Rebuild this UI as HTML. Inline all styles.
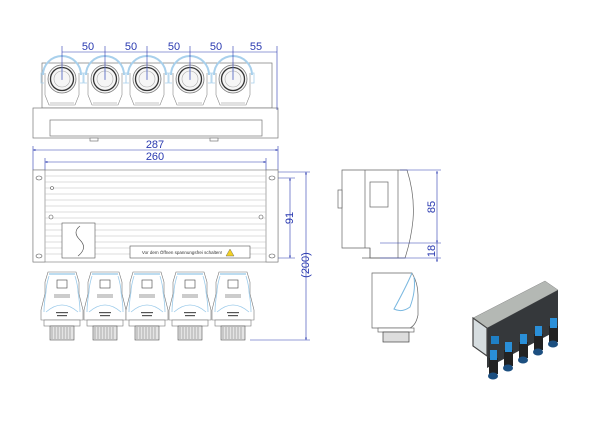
<!DOCTYPE html>
<html><head><style>
body{margin:0;background:#fff}
svg{display:block;font-family:"Liberation Sans",sans-serif}
</style></head><body>
<svg width="600" height="425" viewBox="0 0 600 425" xmlns="http://www.w3.org/2000/svg">
<defs>
<marker id="a" viewBox="0 0 10 10" refX="10" refY="5" markerWidth="6" markerHeight="4" orient="auto-start-reverse"><path d="M0,1 L10,5 L0,9z" fill="#2a3ab0"/></marker>
<g id="knob">
<path d="M-19,-4 A19,19 0 0 1 19,-4" fill="none" stroke="#a8d0ec" stroke-width="2"/>
<path d="M-18,-6 h-3 v10 h3 M18,-6 h3 v10 h-3" fill="none" stroke="#a8d0ec" stroke-width="0.8"/>
<path d="M-17,-6 v22 l4,10 h26 l4,-10 v-22" fill="#fff" stroke="#888" stroke-width="0.6"/>
<circle r="14" fill="#f6f6f6" stroke="#777" stroke-width="0.8"/>
<circle r="11.5" fill="none" stroke="#333" stroke-width="1.3"/>
<circle r="8" fill="none" stroke="#aaa" stroke-width="0.6"/>
<line x1="0" y1="-12" x2="0" y2="0" stroke="#a8d0ec" stroke-width="0.6"/>
<line x1="-12" y1="24" x2="12" y2="24" stroke="#888" stroke-width="0.6"/>
</g>
<g id="plug">
<path d="M-14,0 h28 l3,10 v12 l4,16 v10 h-42 v-10 l4,-16 v-12z" fill="#fff" stroke="#777" stroke-width="0.6"/>
<path d="M-13,2 h26" fill="none" stroke="#7ab8e0" stroke-width="1"/>
<path d="M-16,40 q16,-14 32,0 M-16,20 q-2,12 -2,20 M16,20 q2,12 2,20 M-13,4 q-3,10 -3,16 M13,4 q3,10 3,16" fill="none" stroke="#9ccbea" stroke-width="0.8"/>
<rect x="-5" y="8" width="10" height="8" fill="none" stroke="#444" stroke-width="0.6"/>
<rect x="-8" y="22" width="16" height="4" fill="#ccc"/>
<rect x="-6" y="40" width="12" height="1.2" fill="#555"/>
<rect x="-5" y="43" width="10" height="1.2" fill="#555"/>
<rect x="-18" y="48" width="36" height="6" fill="#fff" stroke="#777" stroke-width="0.6"/>
<rect x="-12" y="54" width="24" height="14" fill="#e4e4e4" stroke="#555" stroke-width="0.6"/>
<path d="M-10,55v12M-7,55v12M-4,55v12M-1,55v12M2,55v12M5,55v12M8,55v12" stroke="#777" stroke-width="0.5"/>
</g>
</defs>

<!-- TOP VIEW -->
<g stroke="#777" stroke-width="0.7" fill="#fff">
<rect x="42" y="63" width="230" height="45"/>
<rect x="33" y="108" width="245" height="30"/>
<rect x="50" y="120" width="212" height="16"/>
<rect x="90" y="138" width="8" height="3"/><rect x="210" y="138" width="8" height="3"/>
</g>
<use href="#knob" x="62" y="79"/><use href="#knob" x="105" y="79"/><use href="#knob" x="147" y="79"/><use href="#knob" x="190" y="79"/><use href="#knob" x="233" y="79"/>
<g stroke="#2a3ab0" stroke-width="0.6" fill="none">
<line x1="62" y1="52" x2="277" y2="52"/>
<line x1="62" y1="46" x2="62" y2="80"/><line x1="105" y1="46" x2="105" y2="80"/><line x1="147" y1="46" x2="147" y2="80"/><line x1="190" y1="46" x2="190" y2="80"/><line x1="233" y1="46" x2="233" y2="80"/><line x1="277" y1="46" x2="277" y2="110"/>
</g>
<g fill="#2a3ab0" font-size="11" text-anchor="middle">
<text x="88" y="50">50</text><text x="131" y="50">50</text><text x="174" y="50">50</text><text x="216" y="50">50</text><text x="256" y="50">55</text>
</g>

<!-- FRONT VIEW -->
<g stroke="#2a3ab0" stroke-width="0.6" fill="none">
<line x1="33" y1="150" x2="278" y2="150" marker-start="url(#a)" marker-end="url(#a)"/>
<line x1="45" y1="162" x2="266" y2="162" marker-start="url(#a)" marker-end="url(#a)"/>
<line x1="33" y1="146" x2="33" y2="170"/><line x1="278" y1="146" x2="278" y2="170"/>
<line x1="45" y1="158" x2="45" y2="175"/><line x1="266" y1="158" x2="266" y2="175"/>
<line x1="290" y1="178" x2="290" y2="258" marker-start="url(#a)" marker-end="url(#a)"/>
<line x1="306" y1="172" x2="306" y2="340" marker-start="url(#a)" marker-end="url(#a)"/>
<line x1="275" y1="178" x2="295" y2="178"/><line x1="275" y1="258" x2="295" y2="258"/>
<line x1="278" y1="172" x2="310" y2="172"/><line x1="250" y1="340" x2="310" y2="340"/>
</g>
<text x="293" y="218" font-size="11" fill="#2a3ab0" transform="rotate(-90 293 218)" text-anchor="middle">91</text>
<text x="309" y="265" font-size="11" fill="#2a3ab0" transform="rotate(-90 309 265)" text-anchor="middle">(200)</text>
<text x="155" y="148" font-size="11" fill="#2a3ab0" text-anchor="middle">287</text>
<text x="155" y="160" font-size="11" fill="#2a3ab0" text-anchor="middle">260</text>
<g stroke="#777" stroke-width="0.6" fill="#fff">
<rect x="33" y="170" width="245" height="92"/>
<rect x="33" y="170" width="12" height="92"/><rect x="266" y="170" width="12" height="92"/>
</g>
<g stroke="#bbb" stroke-width="0.5">
<line x1="45" y1="176" x2="266" y2="176"/><line x1="45" y1="182" x2="266" y2="182"/><line x1="45" y1="188" x2="266" y2="188"/><line x1="45" y1="194" x2="266" y2="194"/><line x1="45" y1="200" x2="266" y2="200"/><line x1="45" y1="206" x2="266" y2="206"/><line x1="45" y1="212" x2="266" y2="212"/><line x1="45" y1="218" x2="266" y2="218"/><line x1="45" y1="224" x2="266" y2="224"/><line x1="45" y1="230" x2="266" y2="230"/><line x1="45" y1="236" x2="266" y2="236"/><line x1="45" y1="242" x2="266" y2="242"/><line x1="45" y1="248" x2="266" y2="248"/><line x1="45" y1="254" x2="266" y2="254"/>
</g>
<g fill="#fff" stroke="#555" stroke-width="0.6">
<ellipse cx="39" cy="178" rx="3" ry="2"/><ellipse cx="272" cy="178" rx="3" ry="2"/><ellipse cx="39" cy="256" rx="3" ry="2"/><ellipse cx="272" cy="256" rx="3" ry="2"/>
<circle cx="51" cy="217" r="2"/><circle cx="261" cy="217" r="2"/><circle cx="52" cy="188" r="1.5"/>
<rect x="62" y="223" width="33" height="35"/>
<rect x="130" y="246" width="120" height="12"/>
</g>
<path d="M80,226 q-8,6 0,14 q8,8 -2,16" fill="none" stroke="#555" stroke-width="0.7"/>
<text x="182" y="254" font-size="4.5" fill="#333" text-anchor="middle">Vor dem Öffnen spannungsfrei schalten!</text>
<path d="M226,256 l4,-7 l4,7z" fill="#f2d024" stroke="#555" stroke-width="0.4"/>
<use href="#plug" x="62" y="272"/><use href="#plug" x="105" y="272"/><use href="#plug" x="147" y="272"/><use href="#plug" x="190" y="272"/><use href="#plug" x="233" y="272"/>

<!-- SIDE VIEW -->
<g stroke="#666" stroke-width="0.7" fill="#fff">
<path d="M342,170 h65 q8,25 6,50 q-2,20 -8,38 h-35 v-10 h-28z"/>
<rect x="338" y="190" width="4" height="18"/>
<rect x="370" y="182" width="18" height="25"/>
<line x1="398" y1="170" x2="398" y2="258"/>
<line x1="365" y1="170" x2="365" y2="248"/>
<path d="M370,248 v10 M362,258 h18" fill="none"/>
</g>
<g stroke="#2a3ab0" stroke-width="0.6" fill="none">
<line x1="437" y1="171" x2="437" y2="243" marker-start="url(#a)" marker-end="url(#a)"/>
<line x1="437" y1="243" x2="437" y2="262" marker-end="url(#a)"/>
<line x1="400" y1="170" x2="441" y2="170"/><line x1="380" y1="243" x2="441" y2="243"/><line x1="380" y1="258" x2="441" y2="258"/>
</g>
<text x="437" y="207" font-size="11" fill="#2a3ab0" transform="rotate(-90 437 207)" text-anchor="middle" dy="-2">85</text>
<text x="437" y="251" font-size="11" fill="#2a3ab0" transform="rotate(-90 437 251)" text-anchor="middle" dy="-2">18</text>
<g stroke="#666" stroke-width="0.7" fill="#fff">
<path d="M372,273 h40 q6,10 6,22 v20 q-2,10 -8,13 h-38z"/>
<path d="M412,273 q-6,14 -18,36 q8,4 16,-2 q6,-16 4,-30" fill="none" stroke="#7ab8e0" stroke-width="1"/>
<rect x="378" y="328" width="36" height="4"/>
<rect x="383" y="332" width="26" height="10" fill="#ddd" stroke="#444"/>
</g>

<!-- 3D VIEW -->
<path d="M473,318 L545,281 L558,290 L487,328z" fill="#b4b8b4" stroke="#888" stroke-width="0.5"/>
<path d="M487,328 L558,290 L558,330 L487,368z" fill="#35383b"/>
<path d="M473,318 L487,328 L487,356 L473,346z" fill="#d6dde0" stroke="#444" stroke-width="1.2"/>
<g fill="#222">
<rect x="489" y="358" width="9" height="16"/><rect x="504" y="350" width="9" height="16"/><rect x="519" y="342" width="9" height="16"/><rect x="534" y="334" width="9" height="16"/><rect x="549" y="326" width="9" height="16"/>
</g>
<g fill="#2a8fd8">
<rect x="490" y="350" width="7" height="10"/><rect x="505" y="342" width="7" height="10"/><rect x="520" y="334" width="7" height="10"/><rect x="535" y="326" width="7" height="10"/><rect x="550" y="318" width="7" height="10"/>
<rect x="491" y="336" width="8" height="8" fill="#1f7fc4"/>
</g>
<g fill="#1c4f80">
<ellipse cx="493" cy="376" rx="5" ry="3.5"/><ellipse cx="508" cy="368" rx="5" ry="3.5"/><ellipse cx="523" cy="360" rx="5" ry="3.5"/><ellipse cx="538" cy="352" rx="5" ry="3.5"/><ellipse cx="553" cy="344" rx="5" ry="3.5"/>
</g>
</svg>
</body></html>
